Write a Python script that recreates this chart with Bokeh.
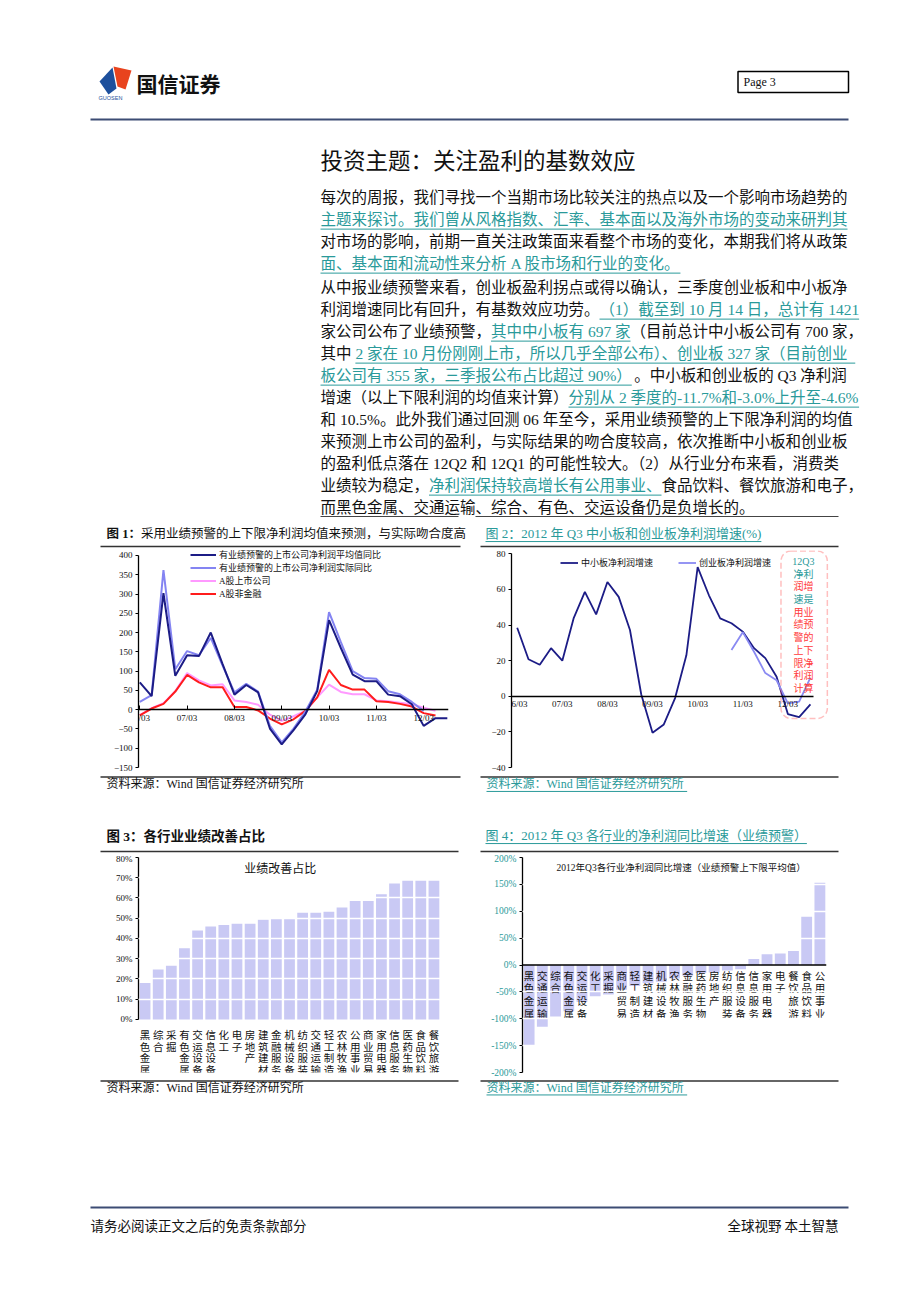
from bokeh.plotting import figure
from bokeh.layouts import column, row
from bokeh.models import (ColumnDataSource, FixedTicker, Range1d, FactorRange, LinearAxis,
                          Legend, LegendItem, BoxAnnotation, Label, Span,
                          PrintfTickFormatter)
from bokeh.core.properties import value
from bokeh.embed import file_html
from bokeh.resources import INLINE

NAN = float("nan")

# ---------------- data ----------------
quarter_tick_labels = ["06/03", "07/03", "08/03", "09/03", "10/03", "11/03", "12/03"]

fig1_series_names = ["有业绩预警的上市公司净利润平均值同比", "有业绩预警的上市公司净利润实际同比",
                     "A股上市公司", "A股非金融"]
fig1_forecast_avg = [71, 35, 302, 88, 141, 139, 200, 118, 39, 64, 45, -49, -90, -53, -12, 48,
                     232, 160, 91, 74, 74, 39, 35, 14, -42, -22, -22]
fig1_actual = [20, 38, 362, 105, 152, 141, 186, 114, 45, 67, 47, -42, -85, -49, -5, 52,
               253, 175, 100, 82, 80, 48, 40, 20, -3, NAN, NAN]
fig1_a_share_all = [-14, 4, 17, 48, 95, 76, 63, 66, 24, 20, 13, -13, -29, -17, -3, 32,
                    65, 46, 40, 40, 24, 22, 18, 14, 5, -3, NAN]
fig1_a_share_nonfin = [-15, 3, 15, 47, 90, 71, 58, 58, 7, 7, -2, -23, -38, -25, -3, 32,
                       103, 64, 52, 52, 22, 20, 15, 8, -9, -15, NAN]

fig2_series_names = ["中小板净利润增速", "创业板净利润增速"]
fig2_sme = [38.5, 20.8, 17.7, 27, 20, 43.7, 58.6, 46, 64.2, 55.8, 37.2, 1, -20.5, -15.8, -1, 23,
            72.5, 56.7, 43.7, 41, 36.3, 27, 21.4, 11, -10, -11.7, -4.6]
fig2_gem = [NAN, NAN, NAN, NAN, NAN, NAN, NAN, NAN, NAN, NAN, NAN, NAN, NAN, NAN, NAN, NAN,
            NAN, NAN, NAN, 26, 36, 25, 13, 9, -4, -3.0, 10.5]
fig2_note_lines = ["12Q3", "净利", "润增", "速是", "用业", "绩预", "警的", "上下", "限净", "利润", "计算"]
fig2_note_link = [1, 1, 0, 1, 0, 0, 0, 0, 0, 0, 0]

fig3_industries = ["黑色金属", "综合", "采掘", "有色金属", "交运设备", "信息设备", "化工", "电子",
                   "房地产", "建筑建材", "金融服务", "机械设备", "纺织服装", "交通运输", "轻工制造",
                   "农林牧渔", "公用事业", "商业贸易", "家用电器", "信息服务", "医药生物", "食品饮料",
                   "餐饮旅游"]
fig3_improved_pct = [18, 24.7, 26.5, 35.2, 43.9, 45.9, 46.7, 47.3, 47.3, 49.3, 49.9, 49.9, 52.7,
                     52.7, 53.2, 55.3, 58.5, 58.5, 61.9, 67.2, 68.5, 68.5, 68.5]

fig4_industries = ["黑色金属", "交通运输", "综合", "有色金属", "交运设备", "化工", "采掘", "商业贸易",
                   "轻工制造", "建筑建材", "机械设备", "农林牧渔", "金融服务", "医药生物", "房地产",
                   "纺织服装", "信息设备", "信息服务", "家用电器", "电子", "餐饮旅游", "食品饮料",
                   "公用事业"]
fig4_growth_pct = [-149, -115, -96, -86, -69, -58, -55, -46, -39, -34, -31, -25, -20, -15, -14,
                   -10, -8, 11, 20, 21.5, 26, 90, 153]

section_title = "投资主题：关注盈利的基数效应"
para1_lines = [
    [("每次的周报，我们寻找一个当期市场比较关注的热点以及一个影响市场趋势的", 0)],
    [("主题来探讨。我们曾从风格指数、汇率、基本面以及海外市场的变动来研判其", 1)],
    [("对市场的影响，前期一直关注政策面来看整个市场的变化，本期我们将从政策", 0)],
    [("面、基本面和流动性来分析 A 股市场和行业的变化。", 1)],
]
para2_lines = [
    [("从中报业绩预警来看，创业板盈利拐点或得以确认，三季度创业板和中小板净", 0)],
    [("利润增速同比有回升，有基数效应功劳。", 0), ("（1）截至到 10 月 14 日，总计有 1421", 1)],
    [("家公司公布了业绩预警，", 0), ("其中中小板有 697 家", 1), ("（目前总计中小板公司有 700 家，", 0)],
    [("其中 ", 0), ("2 家在 10 月份刚刚上市，所以几乎全部公布）、创业板 327 家（目前创业", 1)],
    [("板公司有 355 家，三季报公布占比超过 90%）", 1), ("。中小板和创业板的 Q3 净利润", 0)],
    [("增速（以上下限利润的均值来计算）", 0), ("分别从 2 季度的-11.7%和-3.0%上升至-4.6%", 1)],
    [("和 10.5%。此外我们通过回测 06 年至今，采用业绩预警的上下限净利润的均值", 0)],
    [("来预测上市公司的盈利，与实际结果的吻合度较高，依次推断中小板和创业板", 0)],
    [("的盈利低点落在 12Q2 和 12Q1 的可能性较大。（2）从行业分布来看，消费类", 0)],
    [("业绩较为稳定，", 0), ("净利润保持较高增长有公用事业、", 1), ("食品饮料、餐饮旅游和电子，", 0)],
    [("而黑色金属、交通运输、综合、有色、交运设备仍是负增长的。", 0)],
]
fig1_caption = ("图 1：", "采用业绩预警的上下限净利润均值来预测，与实际吻合度高")
fig2_caption = "图 2：2012 年 Q3 中小板和创业板净利润增速(%)"
fig3_caption = "图 3：各行业业绩改善占比"
fig4_caption = "图 4：2012 年 Q3 各行业的净利润同比增速（业绩预警）"
fig3_inner_title = "业绩改善占比"
fig4_inner_title = "2012年Q3各行业净利润同比增速（业绩预警上下限平均值）"
source_text = "资料来源：Wind  国信证券经济研究所"
footer_left = "请务必阅读正文之后的免责条款部分"
footer_right = "全球视野   本土智慧"

# ---------------- styles ----------------
TEAL = "#2a9a9a"
INK = "#111111"
CJK = "'Noto Sans CJK SC'"
MIX = "'Liberation Serif', 'Noto Sans CJK SC'"
BAR = "#c9c9f4"
PAGE_W = 912

EM = {" ": 0.25, ".": 0.25, "%": 0.833, "-": 0.333, "(": 0.333, ")": 0.333, "/": 0.278,
      "A": 0.722, "Q": 0.722, "W": 0.944, "i": 0.278, "n": 0.5, "d": 0.5, "P": 0.556,
      "a": 0.444, "g": 0.5, "e": 0.444}


def em_width(s):
    return sum(1.0 if ord(c) > 0x2E80 else EM.get(c, 0.5) for c in s)


def new_store():
    return (dict(x=[], y=[], text=[], size=[], color=[], style=[], font=[], align=[]),
            dict(x0=[], x1=[], y=[], color=[]))


def put(store, x, y, text, size, color=INK, style="normal", font=MIX, align="left", underline=False):
    t, u = store
    t["x"].append(x); t["y"].append(y); t["text"].append(text); t["size"].append(f"{size}px")
    t["color"].append(color); t["style"].append(style); t["font"].append(font); t["align"].append(align)
    w = em_width(text) * size
    if underline:
        x0 = x if align == "left" else x - w
        u["x0"].append(x0); u["x1"].append(x0 + w); u["y"].append(y + size * 0.62); u["color"].append(color)
    return w


def render(p, store):
    t, u = store
    p.text(x="x", y="y", text="text", text_font_size="size", text_color="color",
           text_font_style="style", text_font="font", text_align="align",
           text_baseline="middle", source=ColumnDataSource(t))
    if u["x0"]:
        p.segment(x0="x0", y0="y", x1="x1", y1="y", line_color="color", line_width=1,
                  source=ColumnDataSource(u))


def page_fig(h, y0):
    p = figure(width=PAGE_W, height=h, x_range=Range1d(0, PAGE_W), y_range=Range1d(y0 + h, y0),
               output_backend="svg", toolbar_location=None, x_axis_location=None,
               y_axis_location=None, min_border=0, outline_line_color=None)
    p.grid.grid_line_color = None
    return p


def rules(p, segs, color="#333333", width=1.3):
    p.segment(x0=[s[0] for s in segs], x1=[s[1] for s in segs], y0=[s[2] for s in segs],
              y1=[s[2] for s in segs], line_color=color, line_width=width)


def paragraph(store, lines, y0, dy, x0=320, width=528, fs=15.5):
    for k, segs in enumerate(lines):
        y = y0 + k * dy
        nat = sum(em_width(s) for s, _ in segs) * fs
        scale = width / nat if (k < len(lines) - 1 and nat < width) else 1.0
        cum = 0.0
        for s, link in segs:
            w = put(store, x0 + cum * scale, y, s, fs, TEAL if link else INK, underline=bool(link))
            cum += w


# ---------------- top page block (header + text) ----------------
top = page_fig(548, 0)
st = new_store()
top.patches(xs=[[99, 112, 116, 108], [113, 131, 125, 117]],
            ys=[[81, 67, 88, 94], [66, 70, 89, 86]],
            fill_color=["#1d4f9c", "#e8431e"], line_color=None)
put(st, 110, 97.5, "GUOSEN", 5.5, "#1d4f9c", font="'Liberation Sans'", align="center")
put(st, 136, 82, "国信证券", 21, "#111111", style="bold", font=CJK)
top.quad(left=[737.5], right=[848], top=[71], bottom=[92], fill_color=None, line_color="black", line_width=1.5)
put(st, 743, 81.5, "Page    3", 12, INK, font="'Liberation Serif'")
rules(top, [(90, 848, 119)], color="#3c4c74", width=2)
put(st, 320, 158, section_title, 22.5, INK, font=CJK)
paragraph(st, para1_lines, 197, 22)
paragraph(st, para2_lines, 287, 22)
rules(top, [(320, 458, 516), (475, 838, 516)], color="#444444", width=1)
w = put(st, 106, 533, fig1_caption[0], 12.5, INK, style="bold")
put(st, 106 + w, 533, fig1_caption[1], 12.5, INK)
put(st, 485, 533, fig2_caption, 13, TEAL, underline=True)
rules(top, [(100, 460, 546), (480, 838, 546)])
render(top, st)

# ---------------- chart helper ----------------
def chart(width, height, x_range, y_range, mb):
    l, r, t, b = mb
    p = figure(width=width, height=height, x_range=x_range, y_range=y_range, output_backend="svg",
               toolbar_location=None, x_axis_location=None, min_border_left=l,
               min_border_right=r, min_border_top=t, min_border_bottom=b,
               outline_line_color=None)
    p.grid.grid_line_color = None
    ya = p.yaxis[0]
    ya.axis_line_color = "black"; ya.axis_line_width = 1.3
    ya.major_tick_out = 3; ya.major_tick_in = 0; ya.minor_tick_line_color = None
    ya.major_tick_line_color = "black"
    ya.major_label_standoff = 3
    ya.major_label_text_font = MIX
    ya.major_label_text_font_size = "9px"
    ya.major_label_text_color = INK
    return p


def style_x(ax, font=MIX, size="9px", standoff=3):
    ax.axis_line_color = "black"; ax.axis_line_width = 1.3
    ax.major_tick_in = 4; ax.major_tick_out = 0; ax.minor_tick_line_color = None
    ax.major_label_standoff = standoff
    ax.major_label_text_font = font
    ax.major_label_text_font_size = size
    ax.major_label_text_color = INK


def stacked_labels(p, cats, start, step, size):
    xs, ys, offs, chars = [], [], [], []
    for c in cats:
        for j, ch in enumerate(c):
            xs.append(c); ys.append(0); offs.append(start + j * step); chars.append(ch)
    p.text(x=xs, y=ys, text=chars, y_offset=offs, text_font=value(CJK), text_font_size=size,
           text_color=INK, text_align="center", text_baseline="middle")


year_ticks = [4 * k for k in range(len(quarter_tick_labels))]
year_overrides = {4 * k: lab for k, lab in enumerate(quarter_tick_labels)}

# ---------------- figure 1 ----------------
q1 = list(range(len(fig1_forecast_avg)))
p1 = chart(475, 227, Range1d(-0.11, 26.1), Range1d(-150, 412.85), (138, 27, 0, 8))
p1.yaxis.ticker = FixedTicker(ticks=list(range(-150, 401, 50)))
p1.yaxis.bounds = (-150, 400)
xa1 = LinearAxis(fixed_location=0, ticker=FixedTicker(ticks=year_ticks), major_label_overrides=year_overrides)
style_x(xa1)
p1.add_layout(xa1, "below")
r_pink = p1.line(q1, fig1_a_share_all, line_color="#ff99ff", line_width=2)
r_red = p1.line(q1, fig1_a_share_nonfin, line_color="#ff1c1c", line_width=2)
r_light = p1.line(q1, fig1_actual, line_color="#8484f2", line_width=2)
r_dark = p1.line(q1, fig1_forecast_avg, line_color="#1c1c86", line_width=2)
leg1 = Legend(items=[LegendItem(label=fig1_series_names[0], renderers=[r_dark]),
                     LegendItem(label=fig1_series_names[1], renderers=[r_light]),
                     LegendItem(label=fig1_series_names[2], renderers=[r_pink]),
                     LegendItem(label=fig1_series_names[3], renderers=[r_red])],
              location=(52, 167), orientation="vertical", glyph_width=26, glyph_height=11,
              label_height=11, spacing=0, padding=0, margin=0, label_standoff=3,
              border_line_color=None, background_fill_alpha=0,
              label_text_font=MIX, label_text_font_size="9px", label_text_color=INK)
p1.add_layout(leg1)

# ---------------- figure 2 ----------------
q2 = list(range(len(fig2_sme)))
p2 = chart(437, 227, Range1d(-0.505, 27.78), Range1d(-40, 81.85), (36, 82, 2, 8))
p2.yaxis.ticker = FixedTicker(ticks=list(range(-40, 81, 20)))
p2.yaxis.bounds = (-40, 80)
xa2 = LinearAxis(fixed_location=0, ticker=FixedTicker(ticks=year_ticks),
                 major_label_overrides=year_overrides, bounds=(-0.505, 26.27))
style_x(xa2)
xa2.major_tick_in = 0
p2.add_layout(xa2, "below")
r_sme = p2.line(q2, fig2_sme, line_color="#1c1c86", line_width=1.8)
r_gem = p2.line(q2, fig2_gem, line_color="#8a8af2", line_width=1.8)
leg2 = Legend(items=[LegendItem(label=fig2_series_names[0], renderers=[r_sme]),
                     LegendItem(label=fig2_series_names[1], renderers=[r_gem])],
              location=(49, 198), orientation="horizontal", glyph_width=18, glyph_height=11,
              label_height=11, spacing=25, padding=0, margin=0, label_standoff=3,
              border_line_color=None, background_fill_alpha=0,
              label_text_font=CJK, label_text_font_size="9px", label_text_color=INK)
p2.add_layout(leg2)
p2.add_layout(BoxAnnotation(left=23.39, right=27.5, top=81.6, bottom=-12.5, fill_color=None,
                            line_color="#ff2a2a", line_width=1.5, line_dash="6 3",
                            border_radius=10))
px_per_unit = 213.7 / 120.0
note_y = [75.7 - k * 12.7 / px_per_unit for k in range(len(fig2_note_lines))]
p2.text(x=[25.38] * len(fig2_note_lines), y=note_y, text=fig2_note_lines,
        text_color=[TEAL if f else "#ff3b3b" for f in fig2_note_link],
        text_font=value(MIX), text_font_size="10px", text_align="center", text_baseline="middle")

# ---------------- middle strip ----------------
mid = page_fig(78, 775)
ms = new_store()
rules(mid, [(100, 460, 776.5), (480, 838, 776.5), (100, 458, 851), (480, 838, 851)])
put(ms, 106, 783.5, source_text, 12, INK)
put(ms, 486, 783.5, source_text, 12, TEAL, underline=True)
put(ms, 106, 836, fig3_caption, 13.5, INK, style="bold")
put(ms, 485, 835, fig4_caption, 13, TEAL, underline=True)
render(mid, ms)

# ---------------- figure 3 ----------------
p3 = chart(480, 225, FactorRange(factors=fig3_industries, range_padding=0), Range1d(-26.2, 80),
           (138, 40, 4, 2))
p3.yaxis.ticker = FixedTicker(ticks=list(range(0, 81, 10)))
p3.yaxis.bounds = (0, 80)
p3.yaxis.formatter = PrintfTickFormatter(format="%d%%")
p3.vbar(x=fig3_industries, top=fig3_improved_pct, width=0.82, fill_color=BAR, line_color=None)
p3.ygrid.ticker = FixedTicker(ticks=list(range(10, 80, 10)))
p3.ygrid.grid_line_color = "white"
p3.ygrid.grid_line_width = 1.5
p3.ygrid.level = "overlay"
stacked_labels(p3, fig3_industries, 15, 11.7, "10.5px")
p3.add_layout(Label(x=10.8, y=75, text=fig3_inner_title, text_align="center", text_baseline="middle",
                    text_font=CJK, text_font_size="12px", text_color=INK))

# ---------------- figure 4 ----------------
p4 = chart(432, 225, FactorRange(factors=fig4_industries, range_padding=0), Range1d(-200, 200),
           (42, 86, 4, 6))
p4.yaxis.ticker = FixedTicker(ticks=list(range(-200, 201, 50)))
p4.yaxis.formatter = PrintfTickFormatter(format="%d%%")
p4.yaxis.major_label_text_color = TEAL
p4.yaxis.major_label_text_font_size = "9.5px"
p4.vbar(x=fig4_industries, top=fig4_growth_pct, bottom=0, width=0.82, fill_color=BAR, line_color=None)
p4.ygrid.ticker = FixedTicker(ticks=[-150, -100, -50, 50, 100, 150])
p4.ygrid.grid_line_color = "white"
p4.ygrid.grid_line_width = 1.5
p4.ygrid.level = "overlay"
p4.add_layout(Span(location=0, dimension="width", line_color="black", line_width=1.3))
stacked_labels(p4, fig4_industries, 10, 12.7, "10.5px")
p4.add_layout(Label(x=12.0, y=181, text=fig4_inner_title, text_align="center", text_baseline="middle",
                    text_font=MIX, text_font_size="9.5px", text_color=INK))

# ---------------- bottom strip ----------------
bot = page_fig(216, 1078)
bs = new_store()
rules(bot, [(100, 458, 1080.5), (480, 838, 1080.5)])
put(bs, 106, 1087, source_text, 12, INK)
put(bs, 486, 1087, source_text, 12, TEAL, underline=True)
rules(bot, [(90, 848, 1207)], color="#3c4c74", width=2)
put(bs, 90, 1224, footer_left, 13.5, INK, font=CJK)
put(bs, 844, 1224, footer_right, 13.5, INK, font=CJK, align="right")
render(bot, bs)

layout = column(top, row(p1, p2), mid, row(p3, p4), bot)
open("out.html", "w").write(file_html(layout, INLINE))
